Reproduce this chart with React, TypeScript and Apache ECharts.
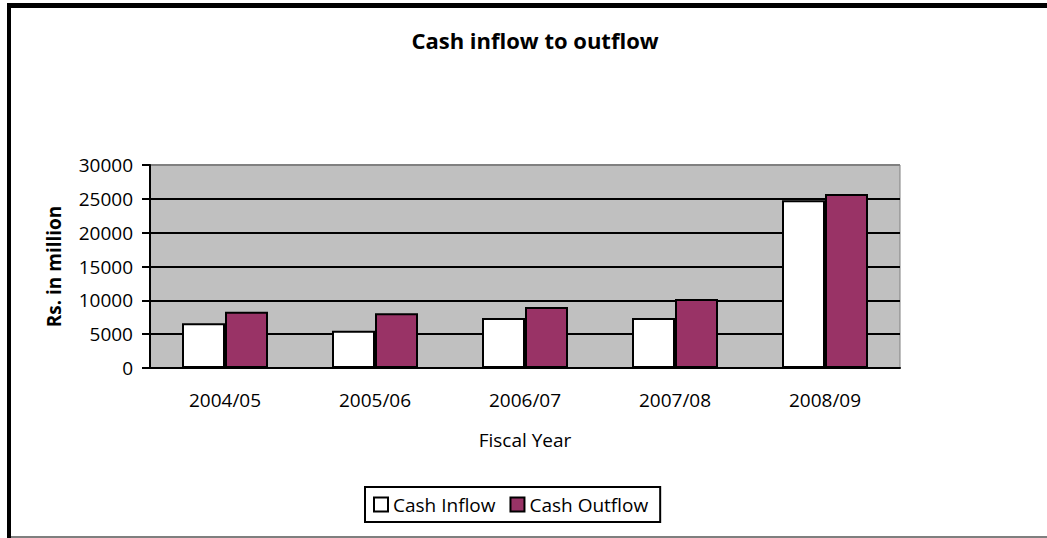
import React, { useEffect, useRef } from "react";
import * as echarts from "echarts";

const categories = ["2004/05", "2005/06", "2006/07", "2007/08", "2008/09"];
const cashInflow = [6600, 5500, 7400, 7400, 24800];
const cashOutflow = [8300, 8100, 9000, 10200, 25700];
const seriesNames = ["Cash Inflow", "Cash Outflow"];
const title = "Cash inflow to outflow";
const yAxisTitle = "Rs. in million";
const xAxisTitle = "Fiscal Year";

const FONT = "'Open Sans', 'Noto Sans', sans-serif";

export default function App() {
  const ref = useRef<HTMLDivElement>(null);
  useEffect(() => {
    document.body.style.margin = "0";
    if (!ref.current) return;
    const chart = echarts.init(ref.current, null, { renderer: "svg" });
    chart.setOption({
      animation: false,
      backgroundColor: "#ffffff",
      title: {
        text: title,
        left: 530,
        top: 24,
        textAlign: "center",
        textStyle: { fontFamily: FONT, fontWeight: "bold", fontSize: 22, color: "#000" },
      },
      grid: {
        left: 150,
        top: 165,
        right: 147,
        bottom: 170,
        show: true,
        backgroundColor: "#c0c0c0",
        borderColor: "#808080",
        borderWidth: 1,
      },
      legend: {
        left: 365,
        top: 487,
        padding: [8, 12, 8, 8],
        borderColor: "#000",
        borderWidth: 2,
        icon: "rect",
        itemWidth: 14,
        itemHeight: 14,
        itemGap: 14,
        textStyle: { fontFamily: FONT, fontSize: 19, color: "#000" },
        data: seriesNames,
      },
      xAxis: {
        type: "category",
        data: categories,
        name: xAxisTitle,
        nameLocation: "middle",
        nameGap: 62,
        nameTextStyle: { fontFamily: FONT, fontSize: 19, color: "#000" },
        axisLine: { lineStyle: { color: "#000", width: 2 } },
        axisTick: { length: 7, lineStyle: { color: "#000", width: 2 } },
        axisLabel: { fontFamily: FONT, fontSize: 19, color: "#000", margin: 22 },
      },
      yAxis: {
        type: "value",
        min: 0,
        max: 30000,
        interval: 5000,
        name: yAxisTitle,
        nameLocation: "middle",
        nameGap: 87,
        nameTextStyle: { fontFamily: FONT, fontSize: 19, fontWeight: "bold", color: "#000" },
        axisLine: { show: true, lineStyle: { color: "#000", width: 2 } },
        axisTick: { show: true, length: 8, lineStyle: { color: "#000", width: 2 } },
        axisLabel: {
          fontFamily: FONT,
          fontSize: 19,
          color: "#000",
          margin: 17,
          formatter: (v: number) => String(v),
        },
        splitLine: {
          lineStyle: {
            color: ["#000", "#000", "#000", "#000", "#000", "#000", "#808080"],
            width: 2,
          },
        },
      },
      series: [
        {
          name: seriesNames[0],
          type: "bar",
          data: cashInflow,
          barWidth: 43,
          barGap: "0%",
          itemStyle: { color: "#ffffff", borderColor: "#000", borderWidth: 2 },
        },
        {
          name: seriesNames[1],
          type: "bar",
          data: cashOutflow,
          barWidth: 43,
          barGap: "0%",
          itemStyle: { color: "#993366", borderColor: "#000", borderWidth: 2 },
        },
      ],
      graphic: [
        { type: "line", shape: { x1: 7, y1: 5.5, x2: 1047, y2: 5.5 }, style: { stroke: "#000", lineWidth: 5 } },
        { type: "line", shape: { x1: 9, y1: 3, x2: 9, y2: 538 }, style: { stroke: "#000", lineWidth: 4 } },
        { type: "line", shape: { x1: 11, y1: 537, x2: 1047, y2: 537 }, style: { stroke: "#555", lineWidth: 1.5 } },
      ],
    });
    return () => chart.dispose();
  }, []);
  return <div ref={ref} style={{ width: 1047, height: 538 }} />;
}
